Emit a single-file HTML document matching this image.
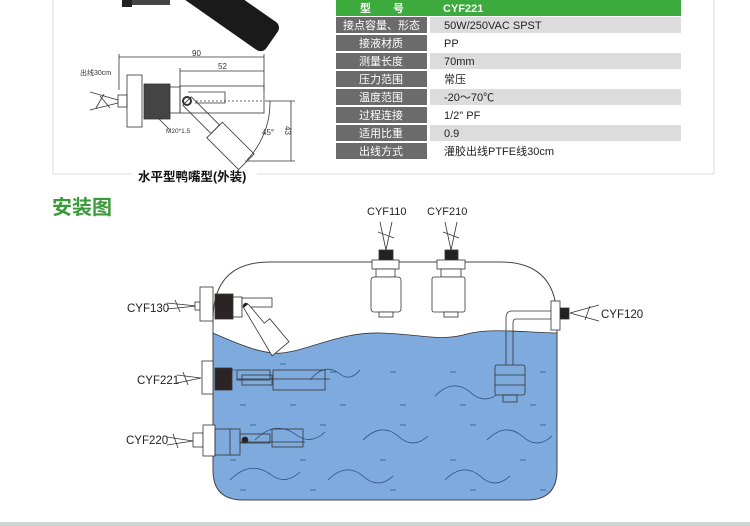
<!DOCTYPE html>
<html><head><meta charset="utf-8"><style>
body{margin:0;background:#fff}
svg{display:block}
text{font-family:"Liberation Sans","Noto Sans CJK SC",sans-serif}
</style></head><body>
<svg width="750" height="526" viewBox="0 0 750 526" xmlns="http://www.w3.org/2000/svg">
<!-- frame -->
<line x1="53" y1="0" x2="53" y2="174" stroke="#ddd"/>
<line x1="714" y1="0" x2="714" y2="174" stroke="#ddd"/>
<line x1="53" y1="174" x2="714" y2="174" stroke="#ddd"/>
<rect x="132" y="166" width="125" height="16" fill="#fff"/>
<text x="138" y="181" font-size="12.5" font-weight="bold" fill="#111">水平型鸭嘴型(外装)</text>
<!-- black photo -->
<rect x="122" y="0" width="10" height="7" fill="#222"/>
<rect x="132" y="0" width="38" height="5" fill="#444"/>
<g transform="translate(272,40) rotate(35)"><rect x="-120" y="-17" width="120" height="34" rx="7" fill="#1a1a1a"/></g>
<!-- drawing -->
<g stroke="#333" stroke-width="0.8" fill="none">
<line x1="119" y1="57" x2="264" y2="57"/><line x1="119" y1="54" x2="119" y2="90"/><line x1="264" y1="54" x2="264" y2="90"/>
<line x1="180" y1="71" x2="264" y2="71"/><line x1="180" y1="68" x2="180" y2="86"/>
<rect x="127" y="75" width="15" height="52" fill="#fff"/>
<rect x="144" y="84" width="26" height="35" fill="#444"/>
<rect x="170" y="87" width="10" height="26" fill="#fff"/>
<rect x="118" y="95" width="9" height="12"/>
<path d="M90 92 L118 100 M90 110 L118 103 M100 96 L110 108 M104 94 L96 108"/>
<rect x="180" y="86" width="84" height="27"/>
<path d="M188 92 L225 92 L225 103 L195 103"/>
<line x1="196" y1="101" x2="264" y2="101" stroke-dasharray="2,2"/>
<circle cx="187" cy="101" r="4" fill="#fff" stroke-width="2"/>
<g transform="translate(187,101) rotate(45)"><rect x="0" y="-6" width="40" height="12"/><rect x="40" y="-10" width="45" height="22"/></g>
<path d="M270 101 A83 83 0 0 1 247 160"/>
<line x1="265" y1="101" x2="295" y2="101"/><line x1="245" y1="161" x2="295" y2="161"/>
<line x1="291" y1="101" x2="291" y2="161"/>
<line x1="158" y1="118" x2="170" y2="130"/>
</g>
<text x="192" y="56" font-size="8" fill="#333">90</text>
<text x="218" y="69" font-size="8" fill="#333">52</text>
<text x="80" y="75" font-size="7" fill="#333">出线30cm</text>
<text x="166" y="133" font-size="6.5" fill="#333">M20*1.5</text>
<text x="262" y="135" font-size="8" fill="#333">45°</text>
<text x="285" y="136" font-size="8" fill="#333" transform="rotate(90 290 131)">43</text>
<!-- table -->
<rect x="336" y="0" width="345" height="16" fill="#3daa3d"/>
<text x="360" y="12" font-size="11" fill="#fff" font-weight="bold">型　　号</text>
<text x="443" y="12" font-size="11" fill="#fff" font-weight="bold">CYF221</text>
<g font-size="11">
<rect x="336" y="17" width="91" height="16" fill="#6b6b6b"/><rect x="430" y="17" width="251" height="16" fill="#dcdcdc"/>
<text x="343" y="29" fill="#fff">接点容量、形态</text><text x="444" y="29" fill="#222">50W/250VAC SPST</text>
<rect x="336" y="35" width="91" height="16" fill="#6b6b6b"/>
<text x="359" y="47" fill="#fff">接液材质</text><text x="444" y="47" fill="#222">PP</text>
<rect x="336" y="53" width="91" height="16" fill="#6b6b6b"/><rect x="430" y="53" width="251" height="16" fill="#dcdcdc"/>
<text x="359" y="65" fill="#fff">测量长度</text><text x="444" y="65" fill="#222">70mm</text>
<rect x="336" y="71" width="91" height="16" fill="#6b6b6b"/>
<text x="359" y="83" fill="#fff">压力范围</text><text x="444" y="83" fill="#222">常压</text>
<rect x="336" y="89" width="91" height="16" fill="#6b6b6b"/><rect x="430" y="89" width="251" height="16" fill="#dcdcdc"/>
<text x="359" y="101" fill="#fff">温度范围</text><text x="444" y="101" fill="#222">-20～70℃</text>
<rect x="336" y="107" width="91" height="16" fill="#6b6b6b"/>
<text x="359" y="119" fill="#fff">过程连接</text><text x="444" y="119" fill="#222">1/2" PF</text>
<rect x="336" y="125" width="91" height="16" fill="#6b6b6b"/><rect x="430" y="125" width="251" height="16" fill="#dcdcdc"/>
<text x="359" y="137" fill="#fff">适用比重</text><text x="444" y="137" fill="#222">0.9</text>
<rect x="336" y="143" width="91" height="16" fill="#6b6b6b"/>
<text x="359" y="155" fill="#fff">出线方式</text><text x="444" y="155" fill="#222">灌胶出线PTFE线30cm</text>
</g>
<!-- title -->
<text x="52" y="214" font-size="20" font-weight="bold" fill="#3a9a3a">安装图</text>
<!-- tank -->
<path d="M213 333 C240 345,265 355,282 353 C310 350,340 332,380 333 C420 334,440 342,467 334 C490 328,520 332,557 333 L557 470 Q557 500,527 500 L243 500 Q213 500,213 470 Z" fill="#7eaadd"/>
<path d="M213 333 C240 345,265 355,282 353 C310 350,340 332,380 333 C420 334,440 342,467 334 C490 328,520 332,557 333" fill="none" stroke="#333" stroke-width="0.8"/>
<path d="M213 470 L213 320 Q213 262,270 262 L500 262 Q557 262,557 320 L557 470 Q557 500,527 500 L243 500 Q213 500,213 470 Z" fill="none" stroke="#444" stroke-width="1"/>
<g stroke="#2b4f7d" stroke-width="0.8" fill="none">
<path d="M310 380 q15 -18 30 -6 q10 8 20 -4"/><path d="M435 396 q18 -18 35 -4 q15 14 30 0"/>
<path d="M255 440 q20 -20 40 -6 q15 12 30 -2"/><path d="M363 440 q18 -18 35 -4 q15 14 30 0"/><path d="M487 440 q18 -18 35 -4 q15 14 30 0"/>
<path d="M230 480 q20 -20 40 -6 q15 12 30 -2"/><path d="M328 480 q18 -18 35 -4 q15 14 30 0"/><path d="M445 480 q18 -18 35 -4 q15 14 30 0"/>
</g>
<g stroke="#3a6a9f" stroke-width="1">
<path d="M230 370h6M280 364h6M330 372h6M390 372h6M450 372h6M540 372h6M240 405h6M290 405h6M340 405h6M400 405h6M460 405h6M530 405h6M250 425h6M320 425h6M400 425h6M470 425h6M540 425h6M230 460h6M300 460h6M380 460h6M450 460h6M520 460h6M240 490h6M310 490h6M390 490h6M470 490h6M540 490h6"/>
</g>
<!-- CYF110/210 -->
<text x="367" y="215" font-size="11" fill="#222">CYF110</text>
<text x="427" y="215" font-size="11" fill="#222">CYF210</text>
<g stroke="#333" stroke-width="0.8" fill="#fff">
<path d="M380 222 L386 250 M392 222 L386 250 M378 232 L394 238" fill="none"/>
<rect x="379" y="250" width="14" height="10" fill="#222"/>
<rect x="372" y="260" width="27" height="9"/><rect x="376" y="269" width="19" height="8"/>
<rect x="371" y="277" width="30" height="35" rx="3"/><rect x="379" y="312" width="14" height="5"/>
<path d="M445 222 L451 250 M457 222 L451 250 M443 232 L459 238" fill="none"/>
<rect x="445" y="250" width="13" height="10" fill="#222"/>
<rect x="437" y="260" width="28" height="9"/><rect x="441" y="269" width="20" height="8"/>
<rect x="432" y="277" width="33" height="35" rx="2"/><rect x="444" y="312" width="14" height="5"/>
</g>
<!-- CYF130 -->
<text x="127" y="312" font-size="11.5" fill="#222">CYF130</text>
<g stroke="#333" stroke-width="0.8" fill="#fff">
<path d="M167 303 L197 306 M167 309 L197 306 M175 300 L180 312" fill="none"/>
<rect x="195" y="302" width="5" height="8"/>
<rect x="200" y="287" width="13" height="34"/>
<rect x="215" y="294" width="18" height="25" fill="#2a2424"/>
<rect x="233" y="297" width="9" height="20"/>
<rect x="242" y="298" width="30" height="9"/>
<circle cx="246" cy="306" r="2.8" fill="#222"/>
<g transform="translate(246,306) rotate(50)"><path d="M0 -3 L25 -3 L25 -10 L55 -10 L55 12 L0 3" /></g>
</g>
<!-- CYF221 -->
<text x="137" y="384" font-size="11.5" fill="#222">CYF221</text>
<g stroke="#333" stroke-width="0.8" fill="none">
<path d="M177 375 L201 378 M177 383 L201 378 M183 372 L188 385"/>
<rect x="202" y="361" width="11" height="33" fill="#fff"/>
<rect x="215" y="368" width="17" height="22" fill="#2a2424"/>
<rect x="237" y="370" width="33" height="10"/><rect x="242" y="375" width="30" height="10"/>
<rect x="273" y="370" width="52" height="20"/><line x1="237" y1="379" x2="330" y2="379"/>
</g>
<!-- CYF220 -->
<text x="126" y="444" font-size="11.5" fill="#222">CYF220</text>
<g stroke="#333" stroke-width="0.8" fill="none">
<path d="M167 437 L193 441 M167 445 L193 441 M173 434 L178 448"/>
<rect x="193" y="433" width="10" height="14" fill="#fff"/>
<rect x="203" y="425" width="12" height="31" fill="#fff"/>
<rect x="215" y="429" width="25" height="26"/><line x1="230" y1="429" x2="230" y2="455"/>
<rect x="240" y="434" width="30" height="9"/><rect x="272" y="429" width="31" height="18"/>
<line x1="240" y1="442" x2="305" y2="442"/>
<circle cx="245" cy="440" r="3" fill="#222"/>
</g>
<!-- CYF120 -->
<text x="601" y="318" font-size="11.5" fill="#222">CYF120</text>
<g stroke="#333" stroke-width="0.8" fill="none">
<path d="M599 305 L570 313 M599 321 L570 313 M590 306 L585 320"/>
<rect x="560" y="308" width="9" height="11" fill="#222"/>
<rect x="551" y="301" width="9" height="29" fill="#fff"/>
<path d="M551 311 L512 311 Q506 311,506 318 L506 365 M551 319 L516 319 Q513 319,513 323 L513 365"/>
<rect x="495" y="365" width="30" height="30" rx="2" fill="#7eaadd"/>
<line x1="495" y1="375" x2="525" y2="375"/><line x1="495" y1="385" x2="525" y2="385"/>
<rect x="503" y="395" width="14" height="7"/>
</g>
<!-- bottom bar -->
<rect x="0" y="522" width="750" height="4" fill="#c9d6d2"/>
</svg>
</body></html>
